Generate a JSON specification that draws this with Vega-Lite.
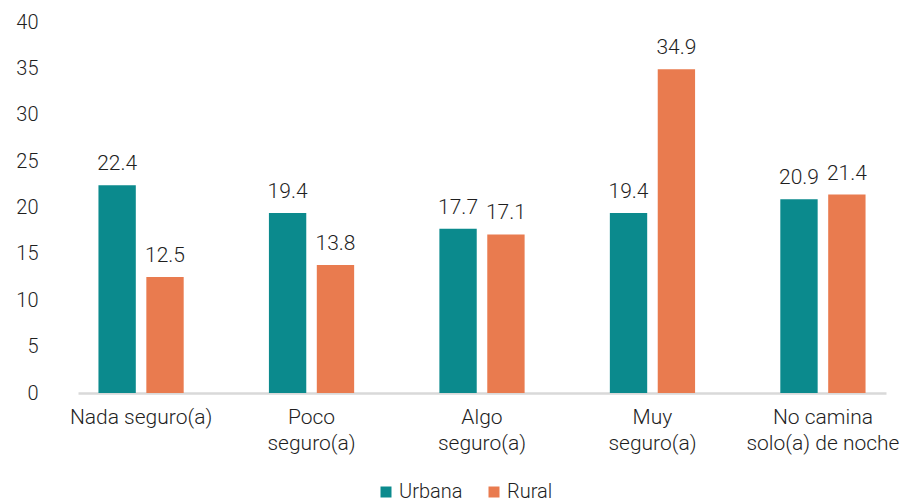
{
  "$schema": "https://vega.github.io/schema/vega-lite/v6.json",
  "width": 808,
  "height": 371,
  "autosize": "none",
  "padding": {"left": 78, "top": 22, "right": 18, "bottom": 109},
  "background": "white",
  "config": {
    "view": {"stroke": null},
    "font": "Roboto Light, Roboto",
    "text": {"font": "Roboto Light, Roboto"}
  },
  "data": {
    "values": [
      {"categoria": "Nada seguro(a)", "area": "Urbana", "valor": 22.4},
      {"categoria": "Nada seguro(a)", "area": "Rural", "valor": 12.5},
      {"categoria": "Poco seguro(a)", "area": "Urbana", "valor": 19.4},
      {"categoria": "Poco seguro(a)", "area": "Rural", "valor": 13.8},
      {"categoria": "Algo seguro(a)", "area": "Urbana", "valor": 17.7},
      {"categoria": "Algo seguro(a)", "area": "Rural", "valor": 17.1},
      {"categoria": "Muy seguro(a)", "area": "Urbana", "valor": 19.4},
      {"categoria": "Muy seguro(a)", "area": "Rural", "valor": 34.9},
      {"categoria": "No camina solo(a) de noche", "area": "Urbana", "valor": 20.9},
      {"categoria": "No camina solo(a) de noche", "area": "Rural", "valor": 21.4}
    ]
  },
  "encoding": {
    "x": {
      "field": "categoria",
      "type": "nominal",
      "sort": null,
      "scale": {"paddingInner": 0.5, "paddingOuter": 0.12},
      "axis": {
        "title": null,
        "labelAngle": 0,
        "ticks": false,
        "domainColor": "#d9d9d9",
        "domainWidth": 2.5,
        "labelFont": "Roboto Light, Roboto",
        "labelFontWeight": 300,
        "labelFontSize": 21,
        "labelColor": "#1f1f1f",
        "labelPadding": 13,
        "labelLineHeight": 26,
        "labelLimit": 300,
        "labelExpr": "datum.label == 'Nada seguro(a)' ? datum.label : datum.label == 'No camina solo(a) de noche' ? ['No camina', 'solo(a) de noche'] : split(datum.label, ' ')"
      }
    },
    "xOffset": {
      "field": "area",
      "type": "nominal",
      "sort": ["Urbana", "Rural"],
      "scale": {"paddingInner": 0.22}
    },
    "y": {
      "field": "valor",
      "type": "quantitative",
      "scale": {"domain": [0, 40], "nice": false},
      "axis": {
        "title": null,
        "values": [0, 5, 10, 15, 20, 25, 30, 35, 40],
        "domain": false,
        "ticks": false,
        "grid": false,
        "labelFont": "Roboto Light, Roboto",
        "labelFontWeight": 300,
        "labelFontSize": 20,
        "labelColor": "#1f1f1f",
        "labelPadding": 40
      }
    },
    "color": {
      "field": "area",
      "type": "nominal",
      "sort": ["Urbana", "Rural"],
      "scale": {"domain": ["Urbana", "Rural"], "range": ["#0B8A8D", "#E97B4F"]},
      "legend": {
        "title": null,
        "orient": "none",
        "direction": "horizontal",
        "legendX": 298,
        "legendY": 460,
        "symbolType": "square",
        "symbolSize": 121,
        "symbolStrokeWidth": 0,
        "labelFont": "Roboto Light, Roboto",
        "labelFontWeight": 300,
        "labelFontSize": 20,
        "labelColor": "#1f1f1f",
        "labelOffset": 3,
        "columnPadding": 21
      }
    }
  },
  "layer": [
    {"mark": {"type": "bar"}},
    {
      "mark": {
        "type": "text",
        "baseline": "alphabetic",
        "dy": -15,
        "font": "Roboto Light, Roboto",
        "fontWeight": 300,
        "fontSize": 21
      },
      "encoding": {
        "text": {"field": "valor", "type": "quantitative", "format": ".1f"},
        "color": {"value": "#1f1f1f"}
      }
    }
  ]
}
